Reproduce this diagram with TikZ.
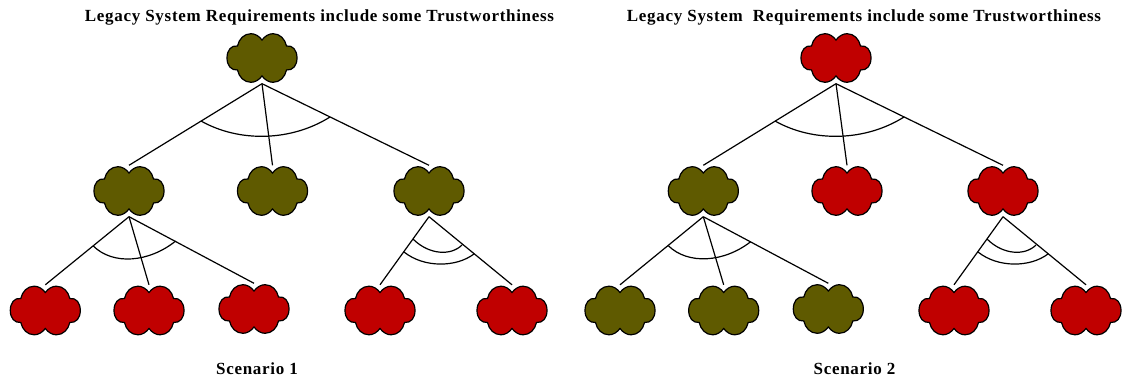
\documentclass[tikz,border=0pt]{standalone}
\usepackage{fontspec}
\setmainfont{Liberation Serif}
\newfontfamily\spacedserif[LetterSpace=4.2]{Liberation Serif}
\definecolor{olivec}{RGB}{95,90,0}
\definecolor{redc}{RGB}{192,0,0}
\tikzset{
  cloudbox/.style={inner sep=0pt,minimum width=70pt,minimum height=51pt},
  cloudline/.style={draw=black,line width=1.2pt},
  link/.style={draw=black,line width=1.2pt},
  andarc/.style={draw=black,line width=1.2pt},
  titletext/.style={font=\fontsize{17pt}{18pt}\spacedserif\bfseries,inner sep=0pt,anchor=base},
}
\newcommand{\cloudat}[3]{%
  \path[cloudline,fill=#3,shift={(#2)}]
   (0,-18) .. controls (-3,-22) and (-7,-24.3) .. (-11,-24.3)
   .. controls (-18,-24.3) and (-23,-19) .. (-24.5,-12)
   .. controls (-31,-13) and (-35,-7.5) .. (-35,0)
   .. controls (-35,7.5) and (-31,12.5) .. (-24.5,12)
   .. controls (-23,19) and (-18,24.3) .. (-11,24.3)
   .. controls (-7,24.3) and (-3,22) .. (0,18)
   .. controls (3,22) and (7,24.3) .. (11,24.3)
   .. controls (18,24.3) and (23,19) .. (24.5,12)
   .. controls (31,12.5) and (35,7.5) .. (35,0)
   .. controls (35,-7.5) and (31,-13) .. (24.5,-12)
   .. controls (23,-19) and (18,-24.3) .. (11,-24.3)
   .. controls (7,-24.3) and (3,-22) .. (0,-18) -- cycle;
  \node[cloudbox] (#1) at (#2) {};}
\begin{document}
\begin{tikzpicture}[x=1pt,y=-1pt]
\useasboundingbox (0,0) rectangle (1137,379);
\node[titletext] (t1) at (319.5,21.5) {Legacy System Requirements include some Trustworthiness};
\node[titletext] (t2) at (864,21.5) {Legacy System\ \ Requirements include some Trustworthiness};
\node[titletext] (s1) at (257,374) {Scenario 1};
\node[titletext] (s2) at (854.5,374) {Scenario 2};
% Scenario 1
\cloudat{a}{262,58}{olivec}
\cloudat{b1}{129,191}{olivec}
\cloudat{b2}{272.5,191}{olivec}
\cloudat{b3}{429,191}{olivec}
\cloudat{c1}{45.3,310.5}{redc}
\cloudat{c2}{149,310.5}{redc}
\cloudat{c3}{254,309}{redc}
\cloudat{c4}{380,310.5}{redc}
\cloudat{c5}{512,310.5}{redc}
\draw[link] (a.south) -- (b1.north);
\draw[link] (a.south) -- (b2.north);
\draw[link] (a.south) -- (b3.north);
\draw[link] (b1.south) -- (c1.north);
\draw[link] (b1.south) -- (c2.north);
\draw[link] (b1.south) -- (c3.north);
\draw[link] (b3.south) -- (c4.north);
\draw[link] (b3.south) -- (c5.north);
\draw[andarc] (201,121) .. controls (240,143) and (292,141) .. (330,117);
\draw[andarc] (93.3,246) .. controls (113,265.5) and (149,262.5) .. (175.7,241);
\draw[andarc] (413,239) .. controls (429,255) and (451,256) .. (462,245);
\draw[andarc] (404,252) .. controls (424,268) and (456,267.5) .. (474,254);
% Scenario 2
\cloudat{d}{836,58}{redc}
\cloudat{e1}{703.3,191}{olivec}
\cloudat{e2}{847,191}{redc}
\cloudat{e3}{1003,191}{redc}
\cloudat{f1}{620,310.5}{olivec}
\cloudat{f2}{723.7,310.5}{olivec}
\cloudat{f3}{828.3,309}{olivec}
\cloudat{f4}{954,310.5}{redc}
\cloudat{f5}{1086,310.5}{redc}
\draw[link] (d.south) -- (e1.north);
\draw[link] (d.south) -- (e2.north);
\draw[link] (d.south) -- (e3.north);
\draw[link] (e1.south) -- (f1.north);
\draw[link] (e1.south) -- (f2.north);
\draw[link] (e1.south) -- (f3.north);
\draw[link] (e3.south) -- (f4.north);
\draw[link] (e3.south) -- (f5.north);
\draw[andarc] (775,121) .. controls (814,143) and (866,141) .. (904,117);
\draw[andarc] (668.3,245.7) .. controls (688,265) and (724,262.5) .. (750.7,241.7);
\draw[andarc] (987,239) .. controls (1003,255) and (1025,256) .. (1036,245);
\draw[andarc] (978,252) .. controls (998,268) and (1030,267.5) .. (1048,254);
\end{tikzpicture}
\end{document}
